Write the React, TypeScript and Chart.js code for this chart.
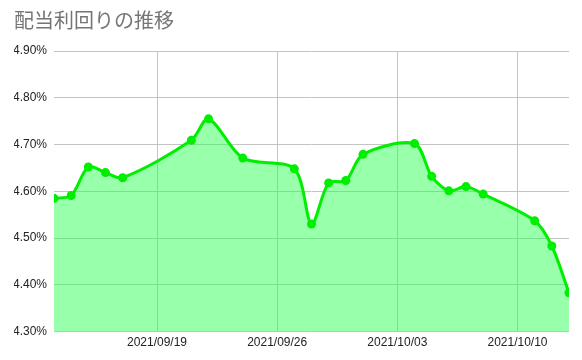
import React, { useEffect, useRef } from "react";
import { Chart, registerables } from "chart.js";

Chart.register(...registerables);

const title = "配当利回りの推移";
const startDate = "2021-09-13";
const dates = [
  "2021-09-13", "2021-09-14", "2021-09-15", "2021-09-16", "2021-09-17",
  "2021-09-21", "2021-09-22", "2021-09-24", "2021-09-27", "2021-09-28",
  "2021-09-29", "2021-09-30", "2021-10-01", "2021-10-04", "2021-10-05",
  "2021-10-06", "2021-10-07", "2021-10-08", "2021-10-11", "2021-10-12",
  "2021-10-13",
];
const yields = [
  4.585, 4.591, 4.652, 4.640, 4.629,
  4.709, 4.755, 4.671, 4.648, 4.530,
  4.618, 4.623, 4.679, 4.702, 4.632,
  4.601, 4.610, 4.594, 4.537, 4.483,
  4.383,
];
const tickDates = ["2021-09-19", "2021-09-26", "2021-10-03", "2021-10-10"];
const yTicks = [4.3, 4.4, 4.5, 4.6, 4.7, 4.8, 4.9];

const DAY = 86400000;
const dayIndex = (d: string) =>
  Math.round((Date.parse(d + "T00:00:00Z") - Date.parse(startDate + "T00:00:00Z")) / DAY);
const fmtDate = (d: string) => d.replace(/-/g, "/");

export default function App() {
  const ref = useRef<HTMLCanvasElement | null>(null);
  useEffect(() => {
    document.body.style.margin = "0";
    const canvas = ref.current!;
    const tickIdx = tickDates.map(dayIndex);
    const chart = new Chart(canvas, {
      type: "line",
      data: {
        datasets: [
          {
            data: dates.map((d, i) => ({ x: dayIndex(d), y: yields[i] })),
            borderColor: "#00ee00",
            backgroundColor: "rgba(40,255,80,0.48)",
            pointBackgroundColor: "#00ee00",
            pointBorderColor: "#00ee00",
            pointRadius: 4.5,
            pointBorderWidth: 0,
            borderWidth: 3,
            fill: "start",
            tension: 0.3,
          },
        ],
      },
      options: {
        animation: false,
        responsive: false,
        layout: { padding: { left: 14, right: 13, top: 0, bottom: 6 } },
        plugins: {
          legend: { display: false },
          tooltip: { enabled: false },
          title: {
            display: true,
            text: title,
            align: "start",
            color: "#757575",
            font: { size: 20, family: "'Noto Sans CJK JP', sans-serif", weight: "normal" },
            padding: { top: 8, bottom: 19 },
          },
        },
        scales: {
          x: {
            type: "linear",
            min: 0,
            max: dayIndex(dates[dates.length - 1]),
            afterBuildTicks: (axis: any) => {
              axis.ticks = tickIdx.map((v) => ({ value: v }));
            },
            ticks: {
              autoSkip: false,
              maxRotation: 0,
              color: "#222",
              font: { size: 12, family: "'Liberation Sans', Arial, sans-serif" },
              padding: 4,
              callback: (v: any) => {
                const i = tickIdx.indexOf(Number(v));
                return i >= 0 ? fmtDate(tickDates[i]) : "";
              },
            },
            grid: { color: "#c4c4c4", drawTicks: false, lineWidth: 1 },
            border: { display: false },
          },
          y: {
            min: 4.3,
            max: 4.9,
            afterBuildTicks: (axis: any) => {
              axis.ticks = yTicks.map((v) => ({ value: v }));
            },
            ticks: {
              color: "#222",
              font: { size: 12, family: "'Liberation Sans', Arial, sans-serif" },
              padding: 7,
              callback: (v: any) => Number(v).toFixed(2) + "%",
            },
            afterFit: (axis: any) => {
              axis.width = 40;
            },
            grid: { color: "#c4c4c4", drawTicks: false, lineWidth: 1 },
            border: { display: false },
          },
        },
      },
    } as any);
    return () => chart.destroy();
  }, []);
  return <canvas ref={ref} width={582} height={360} style={{ display: "block" }} />;
}
